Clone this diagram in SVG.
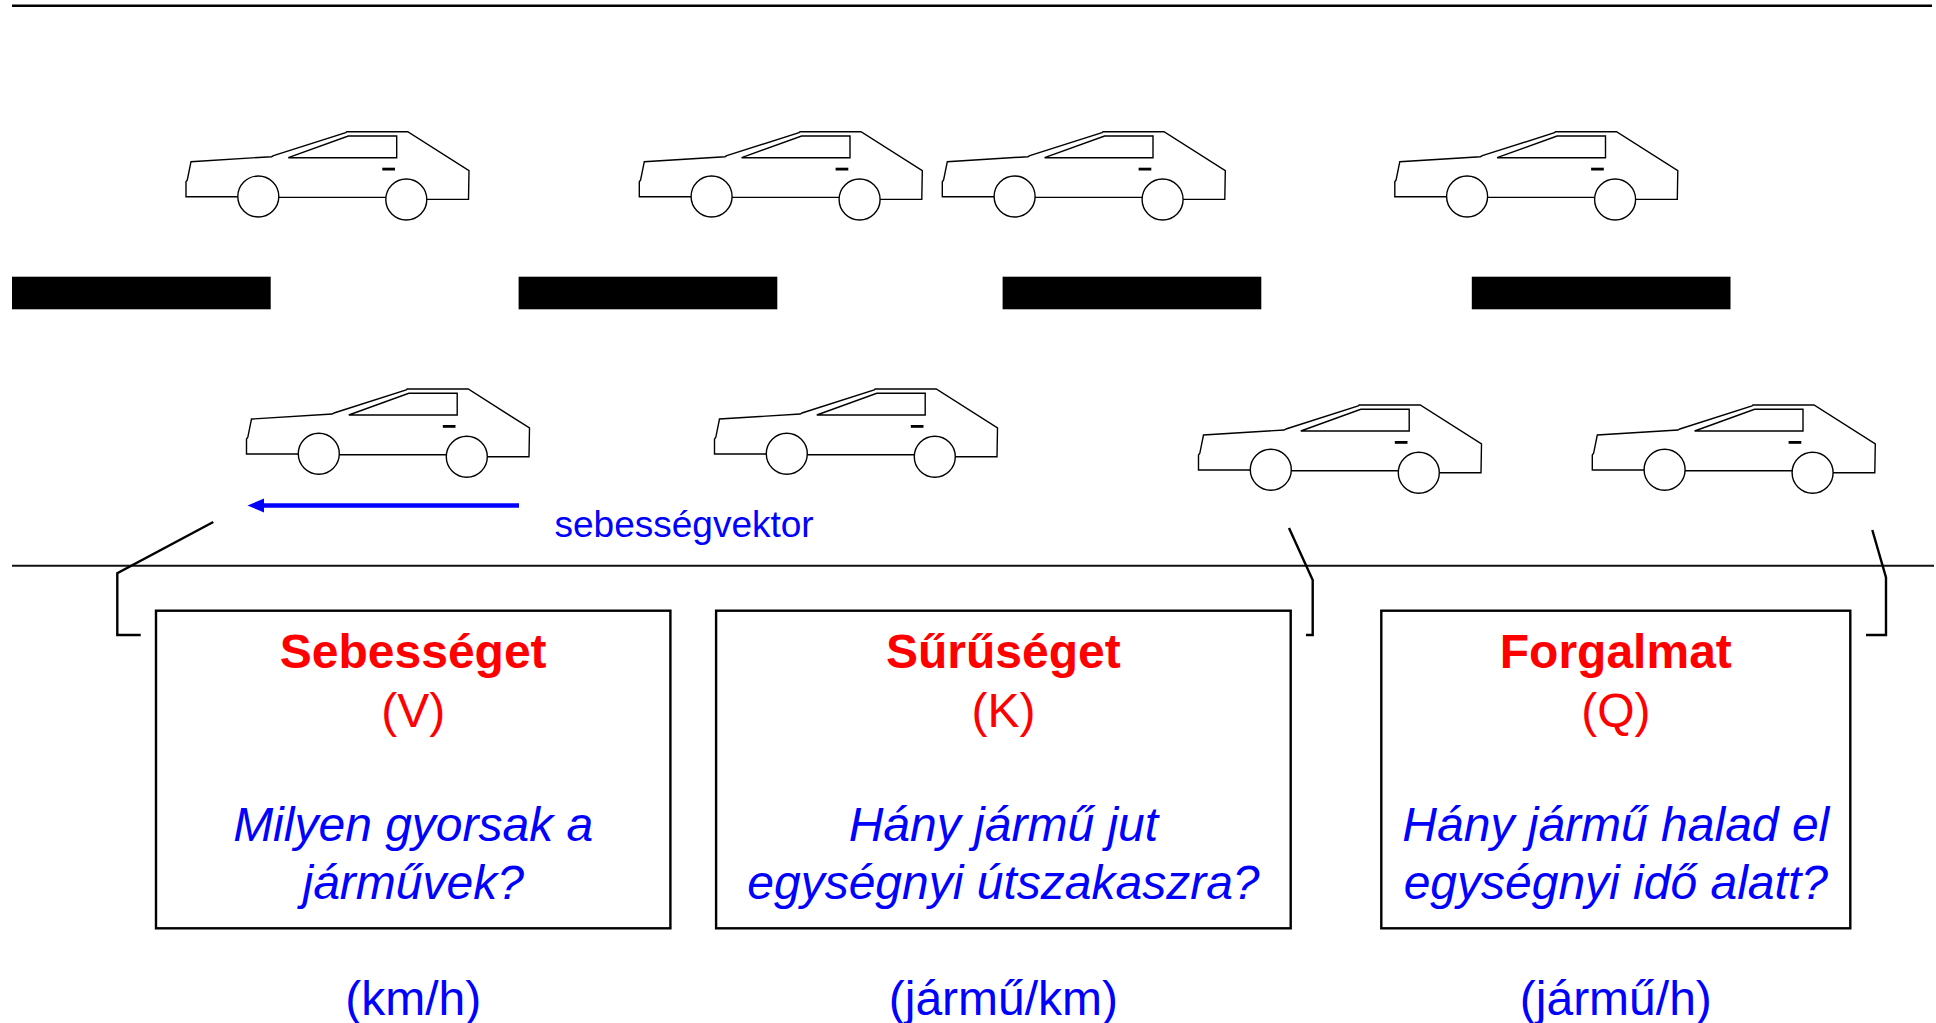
<svg xmlns="http://www.w3.org/2000/svg" xmlns:xlink="http://www.w3.org/1999/xlink" width="1936" height="1023" viewBox="0 0 1936 1023">
  <style>
    .edge { fill: none; stroke: #000; stroke-width: 2.4; }
    .road { fill: none; stroke: #111; stroke-width: 2; }
    .lane { fill: #000; }
    .body { fill: none; stroke: #000; stroke-width: 1.4; stroke-linejoin: miter; }
    .wheel { fill: #fff; stroke: #000; stroke-width: 1.4; }
    .box { fill: #fff; stroke: #000; stroke-width: 2.4; }
    .title { font-family: "Liberation Sans", Arial, sans-serif; font-size: 48px; font-weight: bold; fill: #ff0000; text-anchor: middle; }
    .symbol { font-family: "Liberation Sans", Arial, sans-serif; font-size: 48px; fill: #ff0000; text-anchor: middle; }
    .question { font-family: "Liberation Sans", Arial, sans-serif; font-size: 48px; font-style: italic; fill: #0000ff; text-anchor: middle; }
    .unit { font-family: "Liberation Sans", Arial, sans-serif; font-size: 48px; fill: #0000ff; text-anchor: middle; }
    .vector { font-family: "Liberation Sans", Arial, sans-serif; font-size: 37px; fill: #0000ff; }
  </style>
  <defs>
    <!-- side view of a hatchback, origin at rear-bottom corner x / roof top y -->
    <g id="car">
      <path class="body" d="M0,65 L0,50 L1.3,48.3 L5,30 L85.7,25 L87.5,24 L159.7,1 L160.7,0 L221.7,0 L283,39 L282.5,67.7 L240,67.7 L220,65.7 L92,65.7 L72,65 Z"/>
      <path class="body" d="M102.3,26 L162.3,4.3 L210.7,4.3 L210.7,26 Z"/>
      <rect x="196.3" y="36" width="12.7" height="2.8" fill="#000"/>
      <circle class="wheel" cx="72.3" cy="64.8" r="20.5"/>
      <circle class="wheel" cx="220.3" cy="67.8" r="20.5"/>
    </g>
  </defs>

  <rect width="1936" height="1023" fill="#fff"/>

  <!-- road edges and lane markings -->
  <g id="road">
    <line class="edge" x1="12" y1="5.7" x2="1932" y2="5.7"/>
    <line class="road" x1="12" y1="565.7" x2="1934" y2="565.7"/>
    <rect class="lane" x="12" y="276.7" width="258.7" height="32.6"/>
    <rect class="lane" x="518.6" y="276.7" width="258.7" height="32.6"/>
    <rect class="lane" x="1002.6" y="276.7" width="258.7" height="32.6"/>
    <rect class="lane" x="1471.8" y="276.7" width="258.7" height="32.6"/>
  </g>

  <!-- vehicles -->
  <g id="car-1"><use xlink:href="#car" href="#car" x="186" y="131.7"/></g>
  <g id="car-2"><use xlink:href="#car" href="#car" x="639.3" y="131.7"/></g>
  <g id="car-3"><use xlink:href="#car" href="#car" x="942.3" y="131.7"/></g>
  <g id="car-4"><use xlink:href="#car" href="#car" x="1394.8" y="131.7"/></g>
  <g id="car-5"><use xlink:href="#car" href="#car" x="246.5" y="389"/></g>
  <g id="car-6"><use xlink:href="#car" href="#car" x="714.5" y="389"/></g>
  <g id="car-7"><use xlink:href="#car" href="#car" x="1198.5" y="405"/></g>
  <g id="car-8"><use xlink:href="#car" href="#car" x="1592.3" y="405"/></g>

  <!-- velocity vector -->
  <g id="velocity">
    <line x1="262" y1="505.5" x2="519" y2="505.5" stroke="#0000ff" stroke-width="4.5"/>
    <polygon points="247.5,505.5 264,498.5 264,512.5" fill="#0000ff"/>
    <text class="vector" x="554.5" y="537">sebességvektor</text>
  </g>

  <!-- callout leaders -->
  <g id="connectors">
    <polyline class="edge" points="213.3,522 117.3,573.3 117.3,635 140.7,635"/>
    <polyline class="edge" points="1289,528 1312.7,580 1312.7,635 1306,635"/>
    <polyline class="edge" points="1872.3,530 1886,577.3 1886,635 1866,635"/>
  </g>

  <!-- quantity boxes -->
  <g id="box-speed">
    <rect class="box" x="156" y="610.7" width="514.4" height="317.6"/>
    <text class="title" x="413.2" y="668">Sebességet</text>
    <text class="symbol" x="413.2" y="727">(V)</text>
    <text class="question" x="413.2" y="841">Milyen gyorsak a</text>
    <text class="question" x="413.2" y="899">járművek?</text>
  </g>
  <g id="box-density">
    <rect class="box" x="716.1" y="610.7" width="574.6" height="317.6"/>
    <text class="title" x="1003.4" y="668">Sűrűséget</text>
    <text class="symbol" x="1003.4" y="727">(K)</text>
    <text class="question" x="1003.4" y="841">Hány jármű jut</text>
    <text class="question" x="1003.4" y="899">egységnyi útszakaszra?</text>
  </g>
  <g id="box-flow">
    <rect class="box" x="1381.3" y="610.7" width="469" height="317.6"/>
    <text class="title" x="1615.8" y="668">Forgalmat</text>
    <text class="symbol" x="1615.8" y="727">(Q)</text>
    <text class="question" x="1615.8" y="841">Hány jármű halad el</text>
    <text class="question" x="1615.8" y="899">egységnyi idő alatt?</text>
  </g>

  <!-- units -->
  <g id="units">
    <text class="unit" x="413.2" y="1015">(km/h)</text>
    <text class="unit" x="1003.4" y="1015">(jármű/km)</text>
    <text class="unit" x="1615.8" y="1015">(jármű/h)</text>
  </g>
</svg>
